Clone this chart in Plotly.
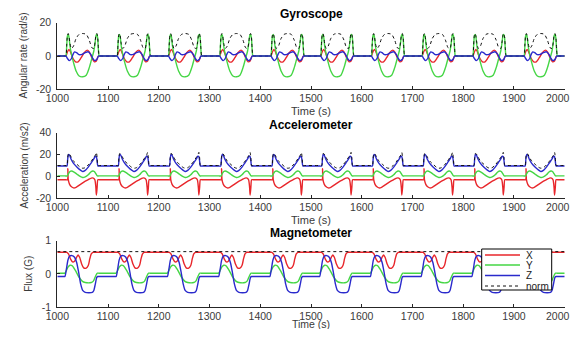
import plotly.graph_objects as go
from plotly.subplots import make_subplots

# ---------------- data ----------------
# start time of each motion cycle (s)
CYCLE_STARTS = [1017, 1118, 1219, 1320, 1421, 1519, 1619, 1719, 1819, 1920]
T_MIN, T_MAX = 1000, 2000

# Gyroscope (rad/s): offsets within a cycle (s) and values
GYRO_X_OFF = [-2, 0, 3, 6, 9, 14, 19, 24, 30, 36, 42, 46, 51, 56, 60, 63, 65, 68]
GYRO_X_VAL = [0, 0, 2.5, 4, 2.5, -1.5, -3.5, -3.5, -1, 2, 3.5, 2.5, -1, -3.5, -3, -0.5, 0, 0]
GYRO_Y_OFF = [-2, 0, 1.5, 3, 4.5, 6, 8, 11, 15, 20, 26, 33, 40, 46, 51, 55, 57.5, 59.5, 61, 62.5, 64, 65.5, 68]
GYRO_Y_VAL = [0, 0, 6, 12, 13, 11.5, 6, 1, -4, -9, -12, -12.5, -11.5, -7, -1.5, 3, 8, 12.5, 13, 11, 4, 0, 0]
GYRO_Z_OFF = [-2, 0, 3, 7, 11, 14, 17, 21, 26, 32, 38, 44, 49, 53, 57, 61, 64, 66, 68]
GYRO_Z_VAL = [0, 0, -1.5, -2.8, -1.5, 1, 2.5, 2, 0.8, 1, 2, 2.5, 1, -1.5, -2.8, -2, 0, 0, 0]
GYRO_N_OFF = [-2, 0, 1.5, 3, 4.5, 6, 8, 11, 15, 20, 26, 33, 40, 46, 51, 55, 57.5, 59.5, 61, 62.5, 64, 65.5, 68]
GYRO_N_VAL = [0, 0, 6.5, 12.5, 13.5, 12, 7.5, 4.5, 6, 10.5, 13, 13.5, 13, 9.5, 5, 4.5, 8.5, 13, 13.5, 11.5, 4.5, 0.3, 0]

# Accelerometer (m/s2)
ACC_X_OFF = [-2, 3, 3.8, 4.6, 7, 11, 15, 20, 28, 36, 44, 50, 54, 57, 59, 60, 61.5, 63, 66]
ACC_X_VAL = [-3, -3, 7, -3, -7, -9.5, -10.5, -10, -7.5, -5, -3, -1.5, -1.5, -3, -10, -17, -10, -3, -3]
ACC_Y_OFF = [-2, 3, 5, 8, 11, 16, 22, 28, 33, 38, 44, 49, 53, 56, 59, 62, 65]
ACC_Y_VAL = [0.5, 0.5, 2.5, 4.5, 5, 4, 2, 0, -1, -0.5, 1.5, 4, 5, 4.5, 2.5, 0.5, 0.5]
ACC_Z_OFF = [-2, 2, 3.5, 5, 7, 10, 15, 22, 28, 33, 38, 44, 50, 55, 58, 60, 61.5, 63, 66]
ACC_Z_VAL = [9.5, 9.5, 16, 20, 19.5, 16, 12, 8.5, 6, 4.5, 5.5, 8.5, 12.5, 16, 18.5, 18, 14, 9.5, 9.5]
ACC_N_OFF = [-2, 2, 3.5, 5, 7, 10, 15, 22, 28, 33, 38, 44, 50, 55, 58, 60, 61.5, 63, 66]
ACC_N_VAL = [10, 10, 17, 21, 20.5, 18, 14, 11, 8.5, 7.5, 8, 10.5, 14, 17.5, 19.5, 22, 17, 10, 10]

# Magnetometer (G)
MAG_X_OFF = [-3, 2, 5, 9, 13, 17, 21, 24, 27, 31, 35, 40, 44, 47, 50, 53, 56]
MAG_X_VAL = [0.65, 0.65, 0.6, 0.45, 0.36, 0.38, 0.5, 0.57, 0.5, 0.3, 0.18, 0.17, 0.25, 0.45, 0.6, 0.65, 0.65]
MAG_Y_OFF = [-4, -2, 1, 4, 8, 12, 18, 25, 32, 38, 50, 54, 57, 60, 62, 65]
MAG_Y_VAL = [0.02, 0.02, 0.1, 0.2, 0.26, 0.25, 0.12, -0.08, -0.22, -0.26, -0.26, -0.22, -0.12, -0.02, 0.02, 0.02]
MAG_Z_OFF = [-4, -2, 1, 4, 7, 12, 17, 21, 25, 29, 33, 38, 52, 55, 58, 61, 63, 66]
MAG_Z_VAL = [-0.08, -0.08, 0.15, 0.42, 0.53, 0.55, 0.5, 0.35, 0.05, -0.3, -0.5, -0.56, -0.56, -0.5, -0.3, -0.1, -0.08, -0.08]
MAG_N_T = [1000, 2000]
MAG_N_VAL = [0.67, 0.67]

# axis ticks
X_TICKS = [1000, 1100, 1200, 1300, 1400, 1500, 1600, 1700, 1800, 1900, 2000]
X_TICKTEXT = ["1000", "1100", "1200", "1300", "1400", "1500", "1600", "1700", "1800", "1900", "2000"]
GYRO_YTICKS = [-20, 0, 20]
GYRO_YTEXT = ["-20", "0", "20"]
ACC_YTICKS = [-20, 0, 20, 40]
ACC_YTEXT = ["-20", "0", "20", "40"]
MAG_YTICKS = [-1, 0, 1]
MAG_YTEXT = ["-1", "0", "1"]

SERIES_NAMES = ["X", "Y", "Z", "norm"]

# ---------------- styling ----------------
RED = "#e8262b"
GREEN = "#45d645"
BLUE = "#2a2acc"
BLACK = "#111111"
AXC = "#262626"
TXT = "#3a3a3a"
FONT = "Liberation Sans, Arial, sans-serif"
PAGE_MARGIN = 8          # default body margin of the html page
W, H = 580 - 2 * PAGE_MARGIN, 337 - 2 * PAGE_MARGIN


def build(offs, vals):
    xs = [T_MIN]
    ys = [vals[0]]
    for s in CYCLE_STARTS:
        xs += [s + o for o in offs]
        ys += list(vals)
    xs.append(T_MAX)
    ys.append(vals[-1])
    return xs, ys


def px(x):
    # window pixel -> paper fraction
    return (x - PAGE_MARGIN) / W


def py(y):
    return 1 - (y - PAGE_MARGIN) / H


fig = make_subplots(rows=3, cols=1)

colors = [RED, GREEN, BLUE, BLACK]
panels = [
    # (row, [(series index, offsets, values)] in drawing order)
    (1, [(0, GYRO_X_OFF, GYRO_X_VAL), (1, GYRO_Y_OFF, GYRO_Y_VAL), (3, GYRO_N_OFF, GYRO_N_VAL),
         (2, GYRO_Z_OFF, GYRO_Z_VAL)]),
    (2, [(0, ACC_X_OFF, ACC_X_VAL), (1, ACC_Y_OFF, ACC_Y_VAL), (2, ACC_Z_OFF, ACC_Z_VAL),
         (3, ACC_N_OFF, ACC_N_VAL)]),
    (3, [(0, MAG_X_OFF, MAG_X_VAL), (1, MAG_Y_OFF, MAG_Y_VAL), (2, MAG_Z_OFF, MAG_Z_VAL),
         (3, None, None)]),
]

for row, series in panels:
    for i, offs, vals in series:
        if offs is None:
            xs, ys = MAG_N_T, MAG_N_VAL
        else:
            xs, ys = build(offs, vals)
        is_norm = i == 3
        fig.add_trace(go.Scatter(
            x=xs, y=ys, mode="lines", name=SERIES_NAMES[i], showlegend=False,
            line=dict(color=colors[i], width=1.0 if is_norm else 1.4,
                      dash="dot" if is_norm else "solid",
                      shape="spline", smoothing=0.7),
            hoverinfo="skip"), row=row, col=1)

# axis geometry (window pixels)
X0, X1 = 57.3, 564.7
panel_y = [(22.7, 89.3), (132.7, 198.3), (240.7, 307.0)]
yranges = [(-20, 20), (-20, 40), (-1, 1)]
yticks = [(GYRO_YTICKS, GYRO_YTEXT), (ACC_YTICKS, ACC_YTEXT), (MAG_YTICKS, MAG_YTEXT)]

axis_common = dict(showline=True, linecolor=AXC, linewidth=1, ticks="inside", ticklen=3,
                   tickwidth=1, tickcolor=AXC, showgrid=False, zeroline=False, mirror=False,
                   automargin=False,
                   tickfont=dict(family=FONT, size=10.5, color=TXT))

# the last x label would fall past the page edge; it is drawn as a right-aligned text instead
x_ticktext_axis = X_TICKTEXT[:-1] + [""]

for k in range(3):
    top, bot = panel_y[k]
    xa = "xaxis" if k == 0 else f"xaxis{k+1}"
    ya = "yaxis" if k == 0 else f"yaxis{k+1}"
    fig.layout[xa].update(domain=[px(X0), px(X1)], range=[T_MIN, T_MAX], tickvals=X_TICKS,
                          ticktext=x_ticktext_axis, ticklabelstandoff=-1, **axis_common)
    fig.layout[ya].update(domain=[py(bot), py(top)], range=list(yranges[k]), tickvals=yticks[k][0],
                          ticktext=yticks[k][1], ticklabelstandoff=3, **axis_common)

ann = []
titles = ["Gyroscope", "Accelerometer", "Magnetometer"]
ylabels = ["Angular rate (rad/s)", "Acceleration (m/s2)", "Flux (G)"]
title_y = [14.5, 124.5, 232.5]
xlabel_y = [111, 220, 324]
xlabel_size = [11, 11, 10.5]
ylabel_x = [22.5, 24, 29]
cx = (X0 + X1) / 2
for k in range(3):
    top, bot = panel_y[k]
    ann.append(dict(text=f"<b>{titles[k]}</b>", x=px(cx), y=py(title_y[k]), xref="paper", yref="paper",
                    showarrow=False, xanchor="center", yanchor="middle",
                    font=dict(family=FONT, size=12, color="#000000")))
    ann.append(dict(text="Time (s)", x=px(cx), y=py(xlabel_y[k]), xref="paper", yref="paper",
                    showarrow=False, xanchor="center", yanchor="middle",
                    font=dict(family=FONT, size=xlabel_size[k], color=TXT)))
    ann.append(dict(text=ylabels[k], x=px(ylabel_x[k]), y=py((top + bot) / 2), xref="paper", yref="paper",
                    showarrow=False, xanchor="center", yanchor="middle", textangle=-90,
                    font=dict(family=FONT, size=10, color=TXT)))
    ann.append(dict(text=X_TICKTEXT[-1], x=px(571.5), y=py(bot + 8.7), xref="paper", yref="paper",
                    showarrow=False, xanchor="right", yanchor="middle",
                    font=dict(family=FONT, size=10.5, color=TXT)))

# hand-drawn legend box in magnetometer panel
LX0, LX1, LY0, LY1 = 481.7, 551.7, 249.0, 290.0
shapes = [dict(type="rect", xref="paper", yref="paper", x0=px(LX0), x1=px(LX1), y0=py(LY1), y1=py(LY0),
               fillcolor="white", line=dict(color="#000000", width=1), layer="above")]
item_y = [255, 265, 275.5, 286]
for i, name in enumerate(SERIES_NAMES):
    shapes.append(dict(type="line", xref="paper", yref="paper", x0=px(485), x1=px(520),
                       y0=py(item_y[i]), y1=py(item_y[i]), layer="above",
                       line=dict(color=colors[i], width=1.0 if i == 3 else 1.3,
                                 dash="dot" if i == 3 else "solid")))
    ann.append(dict(text=name, x=px(524), y=py(item_y[i]), xref="paper", yref="paper",
                    showarrow=False, xanchor="left", yanchor="middle",
                    font=dict(family=FONT, size=10, color="#222222")))

fig.update_layout(width=W, height=H, margin=dict(l=0, r=0, t=0, b=0),
                  paper_bgcolor="white", plot_bgcolor="white", showlegend=False,
                  annotations=ann, shapes=shapes)

fig.write_html("out.html", config={"displayModeBar": False})
